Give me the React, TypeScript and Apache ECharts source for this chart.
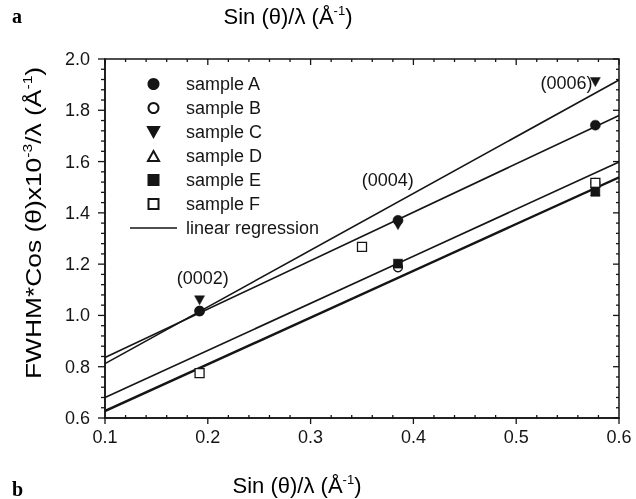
import React, { useEffect, useRef } from "react";
import * as echarts from "echarts";

const xTicks = [0.1, 0.2, 0.3, 0.4, 0.5, 0.6];
const yTicks = [0.6, 0.8, 1.0, 1.2, 1.4, 1.6, 1.8, 2.0];
const xMinorPerMajor = 5;
const yMinorPerMajor = 5;

const xReflections = [0.192, 0.385, 0.577];
const sampleA = [1.017, 1.371, 1.742];
const sampleB = [1.017, 1.188, 1.517];
const sampleC = [1.059, 1.352, 1.91];
const sampleD = [null, 1.202, 1.482];
const sampleE = [null, 1.202, 1.482];
const sampleFx = [0.192, 0.35, 0.577];
const sampleF = [0.775, 1.267, 1.517];

// regression line values at x = 0.1 and x = 0.6
const regA = [0.836, 1.78];
const regB = [0.68, 1.598];
const regC = [0.812, 1.918];
const regE = [0.629, 1.54];
const regF = [0.625, 1.537];

const reflLabels = ["(0002)", "(0004)", "(0006)"];
const reflLabelX = [0.195, 0.375, 0.549];
const reflLabelY = [1.145, 1.527, 1.906];

const FONT = "'Liberation Sans', Arial, sans-serif";
const INK = "#151515";

function pts(xs: number[], ys: (number | null)[]) {
  const out: number[][] = [];
  ys.forEach((y, i) => {
    if (y !== null) out.push([xs[i], y]);
  });
  return out;
}

// tick list: [value, isMajor]
function tickList(majors: number[], minorPer: number) {
  const out: number[][] = [];
  for (let i = 0; i < majors.length; i++) {
    out.push([majors[i], 1]);
    if (i < majors.length - 1) {
      const step = (majors[i + 1] - majors[i]) / minorPer;
      for (let k = 1; k < minorPer; k++) out.push([majors[i] + step * k, 0]);
    }
  }
  return out;
}

export default function App() {
  const ref = useRef<HTMLDivElement>(null);
  useEffect(() => {
    if (!ref.current) return;
    const chart = echarts.init(ref.current, undefined, { renderer: "svg" });
    const xMin = xTicks[0];
    const xMax = xTicks[xTicks.length - 1];
    const yMin = yTicks[0];
    const yMax = yTicks[yTicks.length - 1];

    const scatter = (name: string, data: number[][], symbol: string, size: number, filled: boolean, z: number) => ({
      name,
      type: "scatter",
      data,
      symbol,
      symbolSize: size,
      symbolKeepAspect: true,
      z,
      itemStyle: filled
        ? { color: INK, borderColor: INK, borderWidth: 0.5, opacity: 1 }
        : { color: "#fff", borderColor: INK, borderWidth: 1.3, opacity: 1 },
      emphasis: { disabled: true },
    });
    const reg = (vals: number[]) => ({
      name: "linear regression",
      type: "line",
      data: [
        [xMin, vals[0]],
        [xMax, vals[1]],
      ],
      symbol: "none",
      showSymbol: false,
      z: 1,
      lineStyle: { color: INK, width: 1.6 },
      itemStyle: { color: INK },
      emphasis: { disabled: true },
    });
    const downTri = "path://M0,0 L10,0 L5,9 Z";
    const upTri = "path://M5,0 L10,9 L0,9 Z";
    const square = "path://M0,0 L10,0 L10,10 L0,10 Z";

    const rich = {
      n: { fontSize: 22, fontFamily: FONT, color: INK },
      s: { fontSize: 13, fontFamily: FONT, color: INK, padding: [0, 0, 12, 0] },
    };

    chart.setOption({
      animation: false,
      grid: { left: 105, right: 17, top: 59, bottom: 81 },
      legend: {
        orient: "vertical",
        left: 125,
        top: 70,
        itemWidth: 47,
        itemHeight: 10,
        itemGap: 6,
        selectedMode: false,
        symbolKeepAspect: true,
        textStyle: { fontSize: 18, lineHeight: 18, color: INK, fontFamily: FONT, padding: [0, 0, 0, 4] },
        data: [
          "sample A",
          "sample B",
          "sample C",
          "sample D",
          "sample E",
          "sample F",
          {
            name: "linear regression",
            icon: "path://M0,0 L47,0 L47,1.6 L0,1.6 Z",
            itemStyle: { color: INK, borderWidth: 0 },
          },
        ],
      },
      xAxis: {
        type: "value",
        min: xMin,
        max: xMax,
        interval: 0.1,
        axisLine: { show: true, onZero: false, lineStyle: { color: INK, width: 1.5 } },
        axisTick: { show: false },
        splitLine: { show: false },
        axisLabel: { show: true, fontSize: 18, color: INK, fontFamily: FONT, margin: 10, formatter: (v: number) => v.toFixed(1) },
      },
      yAxis: {
        type: "value",
        min: yMin,
        max: yMax,
        interval: 0.2,
        axisLine: { show: true, onZero: false, lineStyle: { color: INK, width: 1.5 } },
        axisTick: { show: false },
        splitLine: { show: false },
        axisLabel: { show: true, fontSize: 18, color: INK, fontFamily: FONT, margin: 15, formatter: (v: number) => v.toFixed(1) },
      },
      series: [
        reg(regA),
        reg(regB),
        reg(regC),
        reg(regE),
        reg(regF),
        scatter("sample A", pts(xReflections, sampleA), "circle", 10, true, 5),
        scatter("sample B", pts(xReflections, sampleB), "circle", 9, false, 2),
        scatter("sample C", pts(xReflections, sampleC), downTri, 10, true, 4),
        scatter("sample D", pts(xReflections, sampleD), upTri, 8, false, 2),
        scatter("sample E", pts(xReflections, sampleE), square, 9, true, 4),
        scatter("sample F", pts(sampleFx, sampleF), square, 9, false, 3),
        {
          name: "reflections",
          type: "scatter",
          data: reflLabels.map((t, i) => ({ value: [reflLabelX[i], reflLabelY[i]], name: t })),
          symbolSize: 0,
          z: 6,
          itemStyle: { opacity: 1 },
          label: {
            show: true,
            position: "inside",
            formatter: (p: any) => p.name,
            fontSize: 18,
            color: INK,
            fontFamily: FONT,
          },
          emphasis: { disabled: true },
        },
      ],
    });

    // frame and ticks placed through the chart's own scales
    const px = (x: number, y: number) => chart.convertToPixel({ gridIndex: 0 }, [x, y]) as number[];
    const tickStyle = { stroke: INK, lineWidth: 1.3 };
    const ln = (x1: number, y1: number, x2: number, y2: number) => ({
      type: "line",
      z: 100,
      silent: true,
      shape: { x1, y1, x2, y2 },
      style: tickStyle,
    });
    const deco: any[] = [];
    const p0 = px(xMin, yMin);
    const p1 = px(xMax, yMax);
    deco.push({
      type: "rect",
      z: 100,
      silent: true,
      shape: { x: p0[0], y: p1[1], width: p1[0] - p0[0], height: p0[1] - p1[1] },
      style: { fill: "none", stroke: INK, lineWidth: 1.5 },
    });
    tickList(xTicks, xMinorPerMajor).forEach(([v, major]) => {
      const b = px(v, yMin);
      const t = px(v, yMax);
      deco.push(major ? ln(b[0], b[1], b[0], b[1] + 6) : ln(b[0], b[1] - 3, b[0], b[1] + 1));
      deco.push(ln(t[0], t[1], t[0], t[1] + (major ? 6 : 3)));
    });
    tickList(yTicks, yMinorPerMajor).forEach(([v, major]) => {
      const l = px(xMin, v);
      const r = px(xMax, v);
      deco.push(ln(l[0] - (major ? 7 : 4), l[1], l[0], l[1]));
      deco.push(ln(r[0] - (major ? 6 : 3), r[1], r[0], r[1]));
    });

    chart.setOption({
      graphic: [
        ...deco,
        {
          type: "text",
          x: 288,
          y: 16,
          style: { text: "{n|Sin (θ)/λ (Å}{s|-1}{n|)}", align: "center", verticalAlign: "middle", rich },
        },
        {
          type: "text",
          x: 297,
          y: 485,
          style: { text: "{n|Sin (θ)/λ (Å}{s|-1}{n|)}", align: "center", verticalAlign: "middle", rich },
        },
        {
          type: "text",
          x: 33,
          y: 223,
          rotation: Math.PI / 2,
          scaleX: 1.2,
          style: {
            text: "{n|FWHM*Cos (θ)x10}{s|-3}{n|/λ (Å}{s|-1}{n|)}",
            align: "center",
            verticalAlign: "middle",
            rich,
          },
        },
        {
          type: "text",
          x: 12,
          y: 16,
          style: {
            text: "a",
            fontSize: 20,
            fontWeight: "bold",
            fontFamily: "'Liberation Serif', 'DejaVu Serif', serif",
            fill: "#000",
            verticalAlign: "middle",
          },
        },
        {
          type: "text",
          x: 12,
          y: 489,
          style: {
            text: "b",
            fontSize: 20,
            fontWeight: "bold",
            fontFamily: "'Liberation Serif', 'DejaVu Serif', serif",
            fill: "#000",
            verticalAlign: "middle",
          },
        },
      ],
    });
    return () => chart.dispose();
  }, []);
  return <div ref={ref} style={{ position: "fixed", left: 0, top: 0, width: 636, height: 499 }} />;
}
